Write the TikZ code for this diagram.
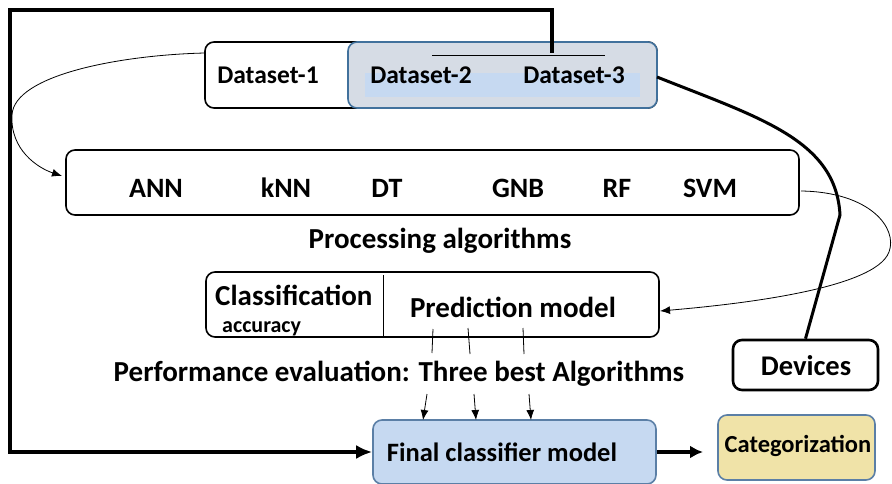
\documentclass[tikz,border=0pt]{standalone}
\usepackage{fontspec}
\setmainfont{Carlito}
\usetikzlibrary{arrows.meta}
\definecolor{dsfill}{HTML}{D6DCE5}
\definecolor{dsborder}{HTML}{41719C}
\definecolor{lblue}{HTML}{C6D9F1}
\definecolor{catfill}{HTML}{F0E3A8}
\definecolor{catborder}{HTML}{5B7FA6}
\begin{document}
\begin{tikzpicture}[x=1pt,y=-1pt,
  box/.style={draw=black, line width=1.6pt, rounded corners=9pt, fill=white, inner sep=0pt},
  lbl/.style={font=\fontsize{29}{33}\selectfont\bfseries, inner sep=0pt},
  dlbl/.style={font=\fontsize{25.5}{30}\selectfont\bfseries, inner sep=0pt},
  algl/.style={font=\fontsize{28}{32}\selectfont\bfseries, inner sep=0pt},
  small/.style={font=\fontsize{22}{26}\selectfont\bfseries, inner sep=0pt},
  thinarr/.style={line width=0.8pt, -{Latex[length=10pt,width=8pt]}},
  thickline/.style={line width=4.5pt}
]
\useasboundingbox (0,0) rectangle (892,484);
% dataset box
\node[box, minimum width=452pt, minimum height=66pt] (ds) at (431,75) {};
\node[box, draw=dsborder, fill=dsfill, minimum width=309pt, minimum height=66pt] (dsr) at (502.5,75) {};
\fill[lblue] (365,73) rectangle (640,97);
\node[dlbl] (d1) at (268,75) {Dataset-1};
\node[dlbl] (d2) at (421,75) {Dataset-2};
\node[dlbl] (d3) at (574,75) {Dataset-3};
\coordinate (tl1) at (432,55);
\coordinate (tl2) at (605,55);
\draw[line width=0.8pt] (tl1) -- (tl2);
% algorithms
\node[box, minimum width=733pt, minimum height=65pt] (alg) at (432.5,182.5) {};
\node[algl] (ann) at (156,188) {ANN};
\node[algl] (knn) at (286,188) {kNN};
\node[algl] (dt) at (387,188) {DT};
\node[algl] (gnb) at (518,188) {GNB};
\node[algl] (rf) at (617,188) {RF};
\node[algl] (svm) at (710,188) {SVM};
\node[lbl] (proc) at (440,241) {Processing algorithms};
% classification / prediction
\node[box, minimum width=453pt, minimum height=65pt] (cls) at (432.5,304.5) {};
\coordinate (dv1) at (383,275);
\coordinate (dv2) at (383,337);
\draw[line width=0.8pt] (dv1) -- (dv2);
\node[lbl, anchor=base west] (clsT) at (215,305) {Classification};
\node[small, anchor=base west] (acc) at (222,332) {accuracy};
\node[lbl] (pred) at (513,307) {Prediction model};
\node[lbl] (perf) at (399,374) {Performance evaluation: Three best Algorithms};
% final
\node[box, draw=catborder, fill=lblue, minimum width=283pt, minimum height=64pt] (fin) at (514.5,452) {};
\node[lbl, font=\fontsize{26.5}{30}\selectfont\bfseries] (finT) at (502,452) {Final classifier model};
% categorization
\node[box, draw=catborder, fill=catfill, minimum width=157pt, minimum height=65pt] (cat) at (796.5,447.5) {};
\node[lbl, font=\fontsize{24.5}{28}\selectfont\bfseries] (catT) at (798,446) {Categorization};
% devices
\node[box, line width=2.6pt, minimum width=145pt, minimum height=50pt] (dev) at (805.5,365) {};
\node[lbl, font=\fontsize{28.5}{32}\selectfont\bfseries] (devT) at (806,366) {Devices};
% outer thick loop
\coordinate (o1) at (552,53);
\coordinate (o2) at (552,10);
\coordinate (o3) at (10,10);
\coordinate (o4) at (10,452);
\draw[thickline, -{Latex[length=16pt,width=14pt]}] (o1) -- (o2) -- (o3) -- (o4) -- (fin.west);
% final -> categorization
\coordinate (ce) at (703,452);
\draw[thickline, -{Latex[length=13pt,width=13pt]}] (fin.east) -- (ce);
% dataset -> algorithms
\coordinate (c1s) at (205,53);
\coordinate (c1m) at (12,115);
\coordinate (c1e) at (62,176);
\draw[thinarr] (c1s) .. controls (120,55) and (14,75) .. (c1m) .. controls (10,150) and (38,168) .. (c1e);
% algorithms -> prediction
\coordinate (c2s) at (801,191);
\coordinate (c2m) at (889,252);
\coordinate (c2e) at (660,311);
\draw[thinarr] (c2s) .. controls (870,192) and (898,228) .. (c2m) .. controls (875,290) and (730,305) .. (c2e);
% dataset -> devices thick curve
\coordinate (c3s) at (657,77);
\coordinate (c3m) at (840,215);
\draw[line width=3pt] (c3s) .. controls (760,118) and (836,140) .. (c3m) -- (dev.north);
% three arrows
\coordinate (a1a) at (433,329); \coordinate (a1b) at (432,353);
\coordinate (a2a) at (468,328); \coordinate (a2b) at (470,354);
\coordinate (a3a) at (523,328); \coordinate (a3b) at (524,354);
\draw[line width=0.8pt] (a1a) -- (a1b);
\draw[line width=0.8pt] (a2a) -- (a2b);
\draw[line width=0.8pt] (a3a) -- (a3b);
\coordinate (b1a) at (427,394); \coordinate (b1b) at (423,420);
\coordinate (b2a) at (474,394); \coordinate (b2b) at (476,420);
\coordinate (b3a) at (529,394); \coordinate (b3b) at (531,420);
\draw[thinarr] (b1a) -- (b1b);
\draw[thinarr] (b2a) -- (b2b);
\draw[thinarr] (b3a) -- (b3b);
\end{tikzpicture}
\end{document}
